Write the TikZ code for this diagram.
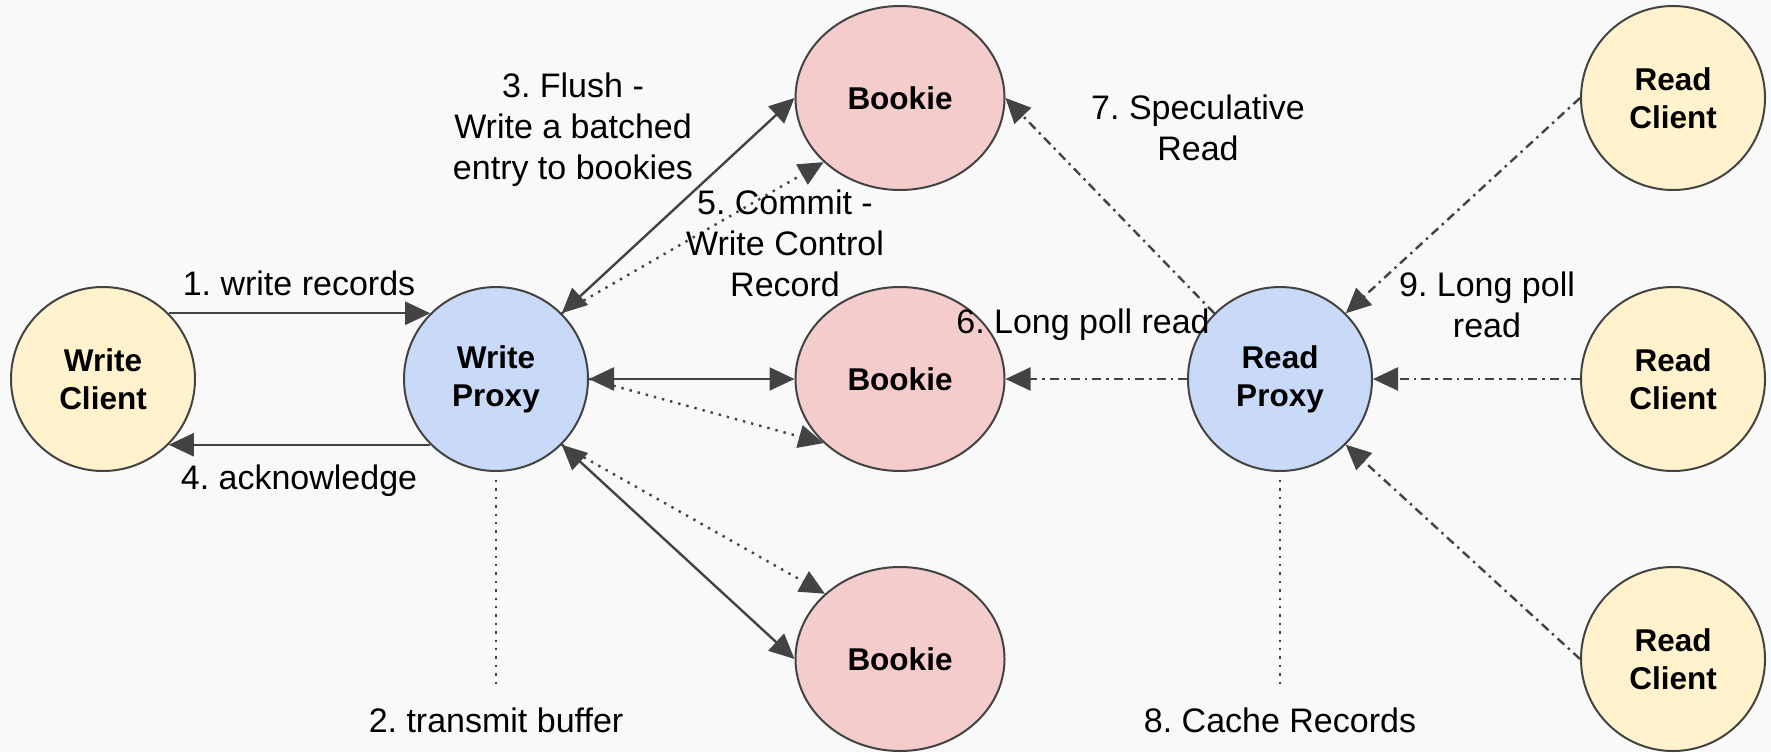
\documentclass[tikz,border=0pt]{standalone}
\usepackage{fontspec}
\setmainfont{Liberation Sans}
\usetikzlibrary{arrows.meta,shapes.geometric}

\definecolor{bg}{HTML}{F9F9F9}
\definecolor{ink}{HTML}{434343}
\definecolor{clientfill}{HTML}{FFF2CC}
\definecolor{proxyfill}{HTML}{C9DAF8}
\definecolor{bookiefill}{HTML}{F4CCCC}

\begin{document}
\frenchspacing
\begin{tikzpicture}[x=1pt,y=-1pt,
  ball/.style={ellipse, draw=ink, line width=2pt, inner sep=0pt,
    minimum width=184pt, minimum height=184pt, align=center,
    font=\fontsize{31.5}{38}\selectfont\bfseries},
  client/.style={ball, fill=clientfill},
  proxy/.style={ball, fill=proxyfill},
  bookie/.style={ball, fill=bookiefill, minimum width=209pt},
  lbl/.style={align=center, inner sep=0pt, font=\fontsize{34}{41}\selectfont},
  tip/.tip={Triangle[length=25pt,width=23pt]},
  wire/.style={draw=ink, line width=2.4pt},
  dotline/.style={wire, dash pattern=on 2.4pt off 6pt},
  dashdot/.style={wire, dash pattern=on 9pt off 5pt on 2.4pt off 5pt},
]
\useasboundingbox (0,0) rectangle (1771,752);
\fill[bg] (0,0) rectangle (1771,752);

% nodes
\node[client] (wc) at (103,379) {Write\\Client};
\node[proxy]  (wp) at (496,379) {Write\\Proxy};
\node[bookie] (bt) at (900,98)  {Bookie};
\node[bookie] (bm) at (900,379) {Bookie};
\node[bookie] (bb) at (900,659) {Bookie};
\node[proxy]  (rp) at (1280,379) {Read\\Proxy};
\node[client] (rc1) at (1673,98)  {Read\\Client};
\node[client] (rc2) at (1673,379) {Read\\Client};
\node[client] (rc3) at (1673,659) {Read\\Client};

\coordinate (wpfoot) at (496,688);
\coordinate (rpfoot) at (1280,688);

% write path
\draw[wire,-tip] (wc.45) -- (wp.135);
\draw[wire,-tip] (wp.225) -- (wc.-45);
\draw[wire,tip-tip] (wp.45) -- (bt.west);
\draw[wire,tip-tip] (wp.east) -- (bm.west);
\draw[wire,tip-tip] (wp.-45) -- (bb.west);
\draw[dotline,-tip] (wp.45) -- (bt.220);
\draw[dotline,-tip] (wp.east) -- (bm.220);
\draw[dotline,-tip] (wp.-45) -- (bb.139);
\draw[dotline] ([yshift=-8pt]wp.south) -- (wpfoot);

% read path
\draw[dashdot,-tip] (rp.135) -- (bt.east);
\draw[dashdot,-tip] (rp.west) -- (bm.east);
\draw[dashdot,-tip] (rc1.west) -- (rp.45);
\draw[dashdot,-tip] (rc2.west) -- (rp.east);
\draw[dashdot,-tip] (rc3.west) -- (rp.-45);
\draw[dotline] ([yshift=-8pt]rp.south) -- (rpfoot);

% labels
\node[lbl] (l1) at (299,283) {1. write records};
\node[lbl] (l4) at (299,481) {4. acknowledge};
\node[lbl] (l2) at (496,720) {2. transmit buffer};
\node[lbl] (l3) at (573,130) {3. Flush -\\Write a batched\\entry to bookies};
\node[lbl] (l5) at (785,243) {5. Commit -\\Write Control\\Record};
\node[lbl] (l6) at (1083,325) {6. Long poll read};
\node[lbl] (l7) at (1198,128) {7. Speculative\\Read};
\node[lbl] (l8) at (1280,720) {8. Cache Records};
\node[lbl] (l9) at (1487,305) {9. Long poll\\read};
\end{tikzpicture}
\end{document}
